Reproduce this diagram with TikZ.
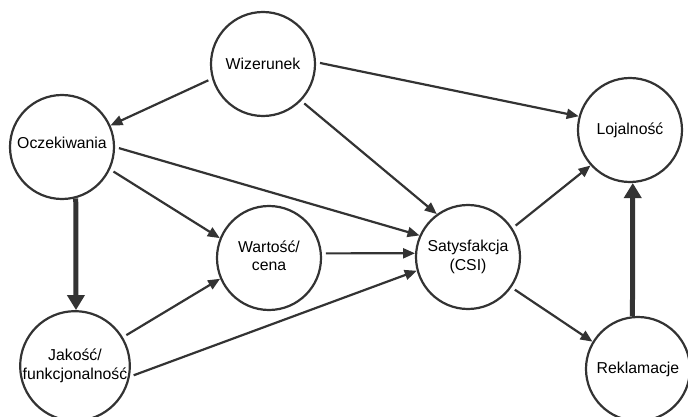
\documentclass[tikz,border=0pt]{standalone}
\usepackage{fontspec}
\setmainfont{Liberation Sans}
\usepackage{xcolor}
\usepackage{tikz}
\usetikzlibrary{arrows.meta}
\definecolor{CsiDark}{HTML}{333333}

\begin{document}
\begin{tikzpicture}[
  x=1pt,y=-1pt,
  factor/.style={circle,draw=CsiDark,line width=2.2pt,minimum size=104pt,
    inner sep=0pt,align=center,font=\fontsize{15.8}{18.5}\selectfont},
  arrow/.style={-{Triangle[length=12pt,width=10pt]},line width=2.2pt,color=CsiDark,
    shorten <=4pt},
  bigarrow/.style={-{Triangle[length=15pt,width=17pt]},line width=5pt,color=CsiDark}
]
  \useasboundingbox (0,0) rectangle (688,417);

  \node[factor] (wiz) at (263,64) {Wizerunek};
  \node[factor] (ocz) at (62,147) {\raisebox{9pt}{Oczekiwania}};
  \node[factor] (loj) at (630,130) {Lojalność};
  \node[factor] (wart) at (269,258)
    {\raisebox{5pt}{\begin{tabular}{@{}c@{}}Wartość/\\cena\end{tabular}}};
  \node[factor] (jak) at (75,366) {Jakość/\\funkcjonalność};
  \node[factor] (sat) at (468,257) {Satysfakcja\\(CSI)};
  \node[factor] (rek) at (638,369) {Reklamacje};

  \draw[arrow] (wiz.196) -- (ocz.24);
  \draw[arrow] (wiz.2) -- (loj.165);
  \draw[arrow] (wiz.-44) -- (sat.126);
  \draw[arrow] (ocz.0) -- (sat.156);
  \draw[arrow] (ocz.-25) -- (wart.158);
  \draw[bigarrow] (ocz.-75) -- (jak.89);
  \draw[arrow] (jak.31) -- (wart.203);
  \draw[arrow] (jak.-11) -- (sat.195);
  \draw[arrow] (wart.5) -- (sat.176);
  \draw[arrow] (sat.33) -- (loj.222);
  \draw[arrow] (sat.-35) -- (rek.149);
  \draw[bigarrow] (rek.96) -- (loj.-87);
\end{tikzpicture}
\end{document}
